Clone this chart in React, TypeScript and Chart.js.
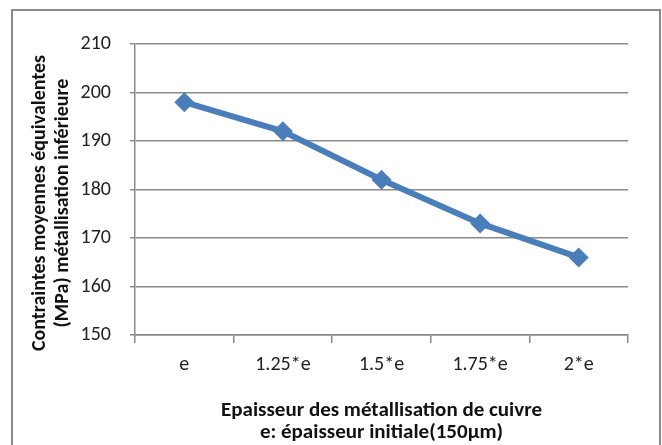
import React, { useEffect, useRef } from "react";
import { Chart, registerables } from "chart.js";

Chart.register(...registerables);

const categories = ["e", "1.25*e", "1.5*e", "1.75*e", "2*e"];
const stressValues = [198, 192, 182, 173, 166];
const yMin = 150;
const yMax = 210;
const yStep = 10;
const yTitleLines = ["Contraintes moyennes équivalentes", "(MPa) métallisation inférieure"];
const xTitleLines = ["Epaisseur des métallisation de cuivre", "e: épaisseur initiale(150µm)"];

const FONT = "Carlito, Lato, 'Open Sans', sans-serif";

const framePlugin = {
  id: "frame",
  beforeDraw(chart: any) {
    const ctx = chart.ctx;
    ctx.save();
    ctx.fillStyle = "#ffffff";
    ctx.fillRect(0, 0, chart.width, chart.height);
    ctx.strokeStyle = "#8a8a8a";
    ctx.lineWidth = 2;
    ctx.strokeRect(12, 10, 648, chart.height + 20);
    ctx.restore();
  },
  afterDraw(chart: any) {
    const ctx = chart.ctx;
    ctx.save();
    ctx.fillStyle = "#111";
    ctx.font = `bold 20px ${FONT}`;
    ctx.textAlign = "center";
    ctx.textBaseline = "middle";
    const cy = 203;
    yTitleLines.forEach((line, i) => {
      ctx.save();
      ctx.translate(40 + i * 23, cy);
      ctx.rotate(-Math.PI / 2);
      ctx.fillText(line, 0, 0);
      ctx.restore();
    });
    ctx.restore();
  },
};

export default function App() {
  const ref = useRef<HTMLCanvasElement>(null);
  useEffect(() => {
    document.body.style.margin = "0";
    const chart = new Chart(ref.current as HTMLCanvasElement, {
      type: "line",
      data: {
        labels: categories,
        datasets: [
          {
            data: stressValues,
            borderColor: "#4a7ebb",
            backgroundColor: "#4a7ebb",
            borderWidth: 6,
            pointStyle: "rectRot",
            pointRadius: 10,
            pointBorderWidth: 0,
            pointBackgroundColor: "#4a7ebb",
            tension: 0,
          },
        ],
      },
      options: {
        animation: false,
        responsive: false,
        maintainAspectRatio: false,
        layout: { padding: { top: 44, right: 34, left: 0, bottom: 0 } },
        plugins: { legend: { display: false }, tooltip: { enabled: false } },
        scales: {
          x: {
            offset: true,
            grid: {
              offset: true,
              drawOnChartArea: false,
              drawTicks: true,
              tickLength: 8,
              color: "#8a8a8a",
              lineWidth: 1.5,
            },
            border: { display: true, color: "#8a8a8a", width: 1.5 },
            ticks: {
              color: "#222",
              font: { family: FONT, size: 20 },
              padding: 10,
              maxRotation: 0,
            },
            title: {
              display: true,
              text: xTitleLines,
              color: "#111",
              font: { family: FONT, size: 21, weight: "bold", lineHeight: "22px" },
              padding: { top: 0, bottom: 1 },
            },
            afterFit: (s: any) => {
              s.height = 110;
            },
          },
          y: {
            min: yMin,
            max: yMax,
            ticks: {
              stepSize: yStep,
              color: "#222",
              font: { family: FONT, size: 20 },
              padding: 19,
            },
            grid: {
              color: "#8a8a8a",
              lineWidth: 1.5,
              tickLength: 5,
            },
            border: { display: true, color: "#8a8a8a", width: 1.5 },
            title: { display: false },
            afterFit: (s: any) => {
              s.width = 135;
            },
          },
        },
      },
      plugins: [framePlugin],
    });
    return () => chart.destroy();
  }, []);
  return (
    <div style={{ width: 662, height: 445 }}>
      <canvas ref={ref} width={662} height={445} style={{ display: "block" }} />
    </div>
  );
}
